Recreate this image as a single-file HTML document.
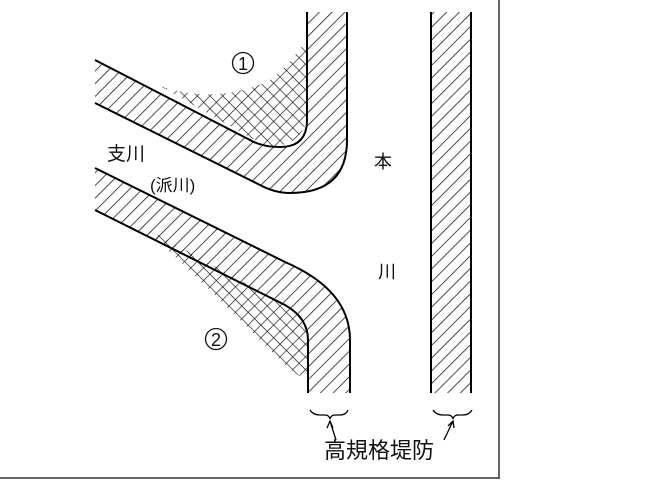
<!DOCTYPE html>
<html><head><meta charset="utf-8"><style>body{margin:0;background:#fff}svg{display:block}</style></head><body>
<svg width="670" height="480" viewBox="0 0 670 480" xmlns="http://www.w3.org/2000/svg" font-family="Liberation Sans, Noto Sans CJK JP, sans-serif">
<defs>
<pattern id="h" width="9" height="9" patternUnits="userSpaceOnUse" patternTransform="rotate(45)"><line x1="0" y1="0" x2="0" y2="9" stroke="#111" stroke-width="1.5"/></pattern>
<pattern id="x" width="9" height="9" patternUnits="userSpaceOnUse" patternTransform="rotate(45)"><line x1="0" y1="0" x2="0" y2="9" stroke="#111" stroke-width="1.3"/><line x1="0" y1="0" x2="9" y2="0" stroke="#111" stroke-width="1.3"/></pattern>
</defs>
<line x1="499" y1="0" x2="499" y2="479" stroke="#333" stroke-width="1.5"/>
<line x1="0" y1="478" x2="499" y2="478" stroke="#333" stroke-width="1.5"/>
<path d="M160,86 C200,100 240,95 270,80 C290,65 298,50 307,40 L307,120 Q300,147 267,147 Z" fill="url(#x)"/>
<path d="M95,60 L250,140 Q262,147 280,147 Q307,147 307,120 L307,12 L347,12 L347,140 Q347,193 290,193 Q275,193 260,185 L95,103 Z" fill="url(#h)"/>
<path d="M95,60 L250,140 Q262,147 280,147 Q307,147 307,120 L307,12" fill="none" stroke="#000" stroke-width="2"/>
<path d="M95,103 L260,185 Q275,193 290,193 Q347,193 347,140 L347,12" fill="none" stroke="#000" stroke-width="2"/>
<path d="M140,225 C180,260 220,300 260,340 C280,360 292,372 300,376 L308,376 L308,340 Q308,315 285,305 Z" fill="url(#x)"/>
<path d="M95,168 L285,262 Q350,290 350,340 L350,393 L308,393 L308,340 Q308,318 285,305 L95,210 Z" fill="url(#h)"/>
<path d="M95,168 L285,262 Q350,290 350,340 L350,393" fill="none" stroke="#000" stroke-width="2"/>
<path d="M95,210 L285,305 Q308,318 308,340 L308,393" fill="none" stroke="#000" stroke-width="2"/>
<rect x="431" y="12" width="40" height="381" fill="url(#h)"/>
<line x1="431" y1="12" x2="431" y2="393" stroke="#000" stroke-width="2"/>
<line x1="471" y1="12" x2="471" y2="393" stroke="#000" stroke-width="2"/>
<path d="M310,410 Q313,415 320,415 L325,415 Q329,415 330,419 Q331,415 335,415 L340,415 Q346,415 348,410" fill="none" stroke="#000" stroke-width="1.3"/>
<path d="M433,410 Q436,415 443,415 L448,415 Q452,415 453,419 Q454,415 458,415 L463,415 Q469,415 472,410" fill="none" stroke="#000" stroke-width="1.3"/>
<path d="M336,440 L330,421 M327,428 L330,421 L333,428" fill="none" stroke="#000" stroke-width="1.3"/>
<path d="M444,440 L453,421 M448,426 L453,421 L454,428" fill="none" stroke="#000" stroke-width="1.3"/>
<circle cx="243" cy="63" r="10.5" fill="none" stroke="#111" stroke-width="1.3"/>
<circle cx="216" cy="339" r="10.5" fill="none" stroke="#111" stroke-width="1.3"/>
<g fill="#111">
<text x="243" y="70" font-size="18" text-anchor="middle">1</text>
<text x="216" y="346" font-size="18" text-anchor="middle">2</text>
<text x="324" y="458" font-size="22">高規格堤防</text>
<text x="374" y="168" font-size="18">本</text>
<text x="378" y="278" font-size="18">川</text>
<text x="107" y="160" font-size="19">支川</text>
<text x="150" y="191" font-size="17">(派川)</text>
</g>
</svg>
</body></html>
